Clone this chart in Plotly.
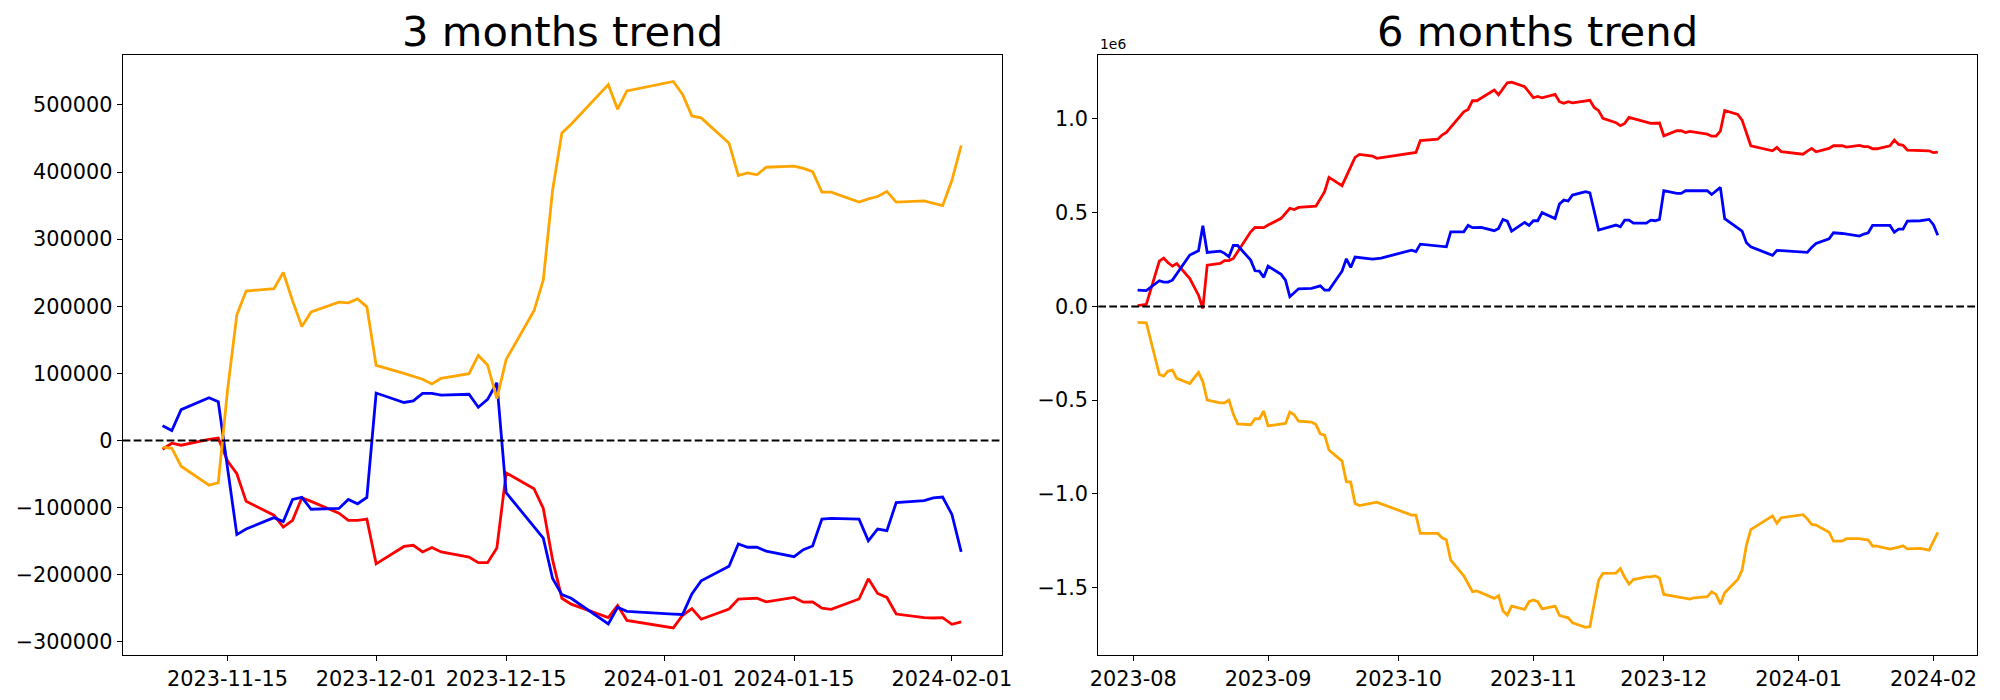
import plotly.graph_objects as go

# ---------------- 3 months trend (shared dates) ----------------
dates_3m = [
    "2023-11-08", "2023-11-09", "2023-11-10", "2023-11-13", "2023-11-14", "2023-11-15",
    "2023-11-16", "2023-11-17", "2023-11-20", "2023-11-21", "2023-11-22", "2023-11-23",
    "2023-11-24", "2023-11-27", "2023-11-28", "2023-11-29", "2023-11-30", "2023-12-01",
    "2023-12-04", "2023-12-05", "2023-12-06", "2023-12-07", "2023-12-08", "2023-12-11",
    "2023-12-12", "2023-12-13", "2023-12-14", "2023-12-15", "2023-12-18", "2023-12-19",
    "2023-12-20", "2023-12-21", "2023-12-22", "2023-12-26", "2023-12-27", "2023-12-28",
    "2024-01-02", "2024-01-03", "2024-01-04", "2024-01-05", "2024-01-08", "2024-01-09",
    "2024-01-10", "2024-01-11", "2024-01-12", "2024-01-15", "2024-01-16", "2024-01-17",
    "2024-01-18", "2024-01-19", "2024-01-22", "2024-01-23", "2024-01-24", "2024-01-25",
    "2024-01-26", "2024-01-29", "2024-01-30", "2024-01-31", "2024-02-01", "2024-02-02",
]
red_3m = [
    -13000, -4100, -7100, 1800, 3500, -30600, -49500, -90700, -111300, -129000, -119000, -85400,
    -90700, -108400, -119000, -119000, -117200, -183800, -157900, -156100, -166100, -159600,
    -166100, -173800, -182000, -182000, -160200, -48300, -71900, -101300, -177900, -235100,
    -243900, -263900, -245700, -268000, -279200, -260400, -250400, -266300, -251000, -236200,
    -235600, -235100, -240400, -233900, -240900, -240400, -249800, -251500, -236200, -206200,
    -228000, -233900, -258600, -263900, -264500, -263900, -273900, -270400,
]
blue_3m = [
    21800, 14700, 45900, 63600, 57700, -42400, -140200, -132000, -114900, -120800, -87800, -84800,
    -102500, -101300, -87800, -94300, -84800, 70700, 56600, 58900, 70100, 70100, 67700, 68900,
    49500, 61300, 86000, -77800, -127800, -145500, -205600, -229700, -235100, -273300, -248600,
    -254500, -258600, -259200, -228600, -209100, -187300, -154300, -159100, -159100, -164900,
    -173200, -162600, -157300, -117200, -116100, -117200, -149600, -132000, -134300, -92500,
    -89500, -85400, -84200, -110200, -166100,
]
orange_3m = [
    -10000, -11800, -38300, -66600, -63000, 75400, 187300, 222700, 226200, 250400, 208000, 169700,
    191500, 206200, 205000, 210900, 199100, 111900, 100100, 95400, 91300, 84200, 92500, 99600,
    126700, 112500, 62400, 120800, 193200, 239200, 372900, 458300, 471300, 530200, 493700, 520800,
    534900, 515500, 483600, 480700, 443000, 394700, 398800, 395900, 407100, 408800, 405300, 400600,
    370000, 370000, 355200, 359900, 363500, 371100, 355200, 357000, 353500, 349900, 387600, 439500,
]

# ---------------- 6 months trend (values in millions, axis offset 1e6) ----------------
red_6m_dates = [
    "2023-08-02", "2023-08-04", "2023-08-07", "2023-08-08", "2023-08-09", "2023-08-10", "2023-08-11",
    "2023-08-14", "2023-08-16", "2023-08-17", "2023-08-18", "2023-08-21", "2023-08-22", "2023-08-23",
    "2023-08-24", "2023-08-25", "2023-08-28", "2023-08-29", "2023-08-31", "2023-09-01", "2023-09-04",
    "2023-09-06", "2023-09-07", "2023-09-08", "2023-09-12", "2023-09-14", "2023-09-15", "2023-09-18",
    "2023-09-21", "2023-09-22", "2023-09-25", "2023-09-26", "2023-10-05", "2023-10-06", "2023-10-10",
    "2023-10-11", "2023-10-12", "2023-10-16", "2023-10-17", "2023-10-18", "2023-10-19", "2023-10-23",
    "2023-10-24", "2023-10-26", "2023-10-27", "2023-10-30", "2023-11-01", "2023-11-02", "2023-11-03",
    "2023-11-06", "2023-11-07", "2023-11-08", "2023-11-09", "2023-11-10", "2023-11-14", "2023-11-15",
    "2023-11-16", "2023-11-17", "2023-11-20", "2023-11-21", "2023-11-22", "2023-11-23", "2023-11-27",
    "2023-11-28", "2023-11-30", "2023-12-01", "2023-12-04", "2023-12-05", "2023-12-06", "2023-12-07",
    "2023-12-11", "2023-12-12", "2023-12-13", "2023-12-14", "2023-12-15", "2023-12-18", "2023-12-19",
    "2023-12-21", "2023-12-26", "2023-12-27", "2023-12-28", "2024-01-02", "2024-01-03", "2024-01-04",
    "2024-01-05", "2024-01-08", "2024-01-09", "2024-01-11", "2024-01-12", "2024-01-15", "2024-01-16",
    "2024-01-17", "2024-01-18", "2024-01-19", "2024-01-22", "2024-01-23", "2024-01-24", "2024-01-25",
    "2024-01-26", "2024-01-29", "2024-01-31", "2024-02-01", "2024-02-02",
]
red_6m = [
    0.004, 0.011, 0.242, 0.258, 0.233, 0.215, 0.229, 0.149, 0.060, -0.011, 0.220, 0.229, 0.244,
    0.245, 0.256, 0.290, 0.398, 0.421, 0.420, 0.434, 0.470, 0.523, 0.517, 0.528, 0.535, 0.612,
    0.688, 0.644, 0.795, 0.811, 0.802, 0.790, 0.821, 0.884, 0.892, 0.914, 0.928, 1.038, 1.051,
    1.097, 1.097, 1.154, 1.129, 1.193, 1.196, 1.172, 1.113, 1.120, 1.113, 1.131, 1.092, 1.083,
    1.092, 1.086, 1.099, 1.061, 1.044, 1.003, 0.980, 0.964, 0.976, 1.008, 0.985, 0.976, 0.978,
    0.910, 0.937, 0.937, 0.928, 0.933, 0.919, 0.908, 0.908, 0.935, 1.045, 1.024, 0.994, 0.857,
    0.830, 0.848, 0.825, 0.812, 0.828, 0.843, 0.825, 0.843, 0.857, 0.857, 0.850, 0.859, 0.852,
    0.852, 0.841, 0.841, 0.857, 0.887, 0.864, 0.859, 0.834, 0.830, 0.830, 0.820, 0.823,
]
blue_6m_dates = [
    "2023-08-02", "2023-08-04", "2023-08-07", "2023-08-08", "2023-08-09", "2023-08-10", "2023-08-14",
    "2023-08-16", "2023-08-17", "2023-08-18", "2023-08-21", "2023-08-22", "2023-08-23", "2023-08-24",
    "2023-08-25", "2023-08-28", "2023-08-29", "2023-08-30", "2023-08-31", "2023-09-01", "2023-09-04",
    "2023-09-05", "2023-09-06", "2023-09-08", "2023-09-11", "2023-09-13", "2023-09-14", "2023-09-15",
    "2023-09-18", "2023-09-19", "2023-09-20", "2023-09-21", "2023-09-25", "2023-09-27", "2023-10-04",
    "2023-10-05", "2023-10-06", "2023-10-10", "2023-10-12", "2023-10-13", "2023-10-16", "2023-10-17",
    "2023-10-18", "2023-10-20", "2023-10-23", "2023-10-24", "2023-10-25", "2023-10-26", "2023-10-27",
    "2023-10-30", "2023-10-31", "2023-11-01", "2023-11-02", "2023-11-03", "2023-11-06", "2023-11-07",
    "2023-11-08", "2023-11-09", "2023-11-10", "2023-11-13", "2023-11-14", "2023-11-16", "2023-11-20",
    "2023-11-21", "2023-11-22", "2023-11-23", "2023-11-24", "2023-11-27", "2023-11-28", "2023-11-29",
    "2023-11-30", "2023-12-01", "2023-12-04", "2023-12-05", "2023-12-06", "2023-12-11", "2023-12-12",
    "2023-12-14", "2023-12-15", "2023-12-19", "2023-12-20", "2023-12-21", "2023-12-26", "2023-12-27",
    "2024-01-03", "2024-01-04", "2024-01-05", "2024-01-08", "2024-01-09", "2024-01-11", "2024-01-15",
    "2024-01-16", "2024-01-17", "2024-01-18", "2024-01-22", "2024-01-23", "2024-01-24", "2024-01-25",
    "2024-01-26", "2024-01-29", "2024-01-31", "2024-02-01", "2024-02-02",
]
blue_6m = [
    0.087, 0.084, 0.137, 0.130, 0.130, 0.140, 0.274, 0.297, 0.430, 0.288, 0.295, 0.283, 0.265,
    0.325, 0.325, 0.247, 0.190, 0.188, 0.155, 0.215, 0.171, 0.140, 0.052, 0.094, 0.096, 0.110,
    0.087, 0.087, 0.188, 0.254, 0.208, 0.263, 0.252, 0.258, 0.300, 0.292, 0.332, 0.320, 0.318,
    0.398, 0.398, 0.432, 0.420, 0.421, 0.404, 0.416, 0.464, 0.455, 0.402, 0.448, 0.432, 0.457,
    0.457, 0.500, 0.469, 0.546, 0.567, 0.562, 0.594, 0.612, 0.606, 0.407, 0.434, 0.425, 0.460,
    0.460, 0.444, 0.444, 0.460, 0.457, 0.464, 0.617, 0.603, 0.603, 0.617, 0.617, 0.597, 0.635,
    0.468, 0.402, 0.340, 0.318, 0.272, 0.299, 0.288, 0.315, 0.336, 0.361, 0.393, 0.389, 0.375,
    0.386, 0.393, 0.432, 0.432, 0.396, 0.412, 0.412, 0.455, 0.457, 0.464, 0.436, 0.380,
]
orange_6m_dates = [
    "2023-08-02", "2023-08-04", "2023-08-07", "2023-08-08", "2023-08-09", "2023-08-10", "2023-08-11",
    "2023-08-14", "2023-08-16", "2023-08-17", "2023-08-18", "2023-08-21", "2023-08-22", "2023-08-23",
    "2023-08-24", "2023-08-25", "2023-08-28", "2023-08-29", "2023-08-30", "2023-08-31", "2023-09-01",
    "2023-09-05", "2023-09-06", "2023-09-07", "2023-09-08", "2023-09-11", "2023-09-12", "2023-09-13",
    "2023-09-14", "2023-09-15", "2023-09-18", "2023-09-19", "2023-09-20", "2023-09-21", "2023-09-22",
    "2023-09-26", "2023-10-04", "2023-10-05", "2023-10-06", "2023-10-10", "2023-10-11", "2023-10-12",
    "2023-10-13", "2023-10-16", "2023-10-18", "2023-10-19", "2023-10-23", "2023-10-24", "2023-10-25",
    "2023-10-26", "2023-10-27", "2023-10-30", "2023-10-31", "2023-11-01", "2023-11-02", "2023-11-03",
    "2023-11-06", "2023-11-07", "2023-11-08", "2023-11-09", "2023-11-10", "2023-11-13", "2023-11-14",
    "2023-11-15", "2023-11-16", "2023-11-17", "2023-11-20", "2023-11-21", "2023-11-22", "2023-11-23",
    "2023-11-24", "2023-11-27", "2023-11-28", "2023-11-29", "2023-11-30", "2023-12-01", "2023-12-04",
    "2023-12-07", "2023-12-08", "2023-12-11", "2023-12-12", "2023-12-13", "2023-12-14", "2023-12-15",
    "2023-12-18", "2023-12-19", "2023-12-20", "2023-12-21", "2023-12-26", "2023-12-27", "2023-12-28",
    "2024-01-02", "2024-01-03", "2024-01-04", "2024-01-05", "2024-01-08", "2024-01-09", "2024-01-11",
    "2024-01-12", "2024-01-15", "2024-01-17", "2024-01-18", "2024-01-19", "2024-01-22", "2024-01-24",
    "2024-01-25", "2024-01-26", "2024-01-29", "2024-01-31", "2024-02-01", "2024-02-02",
]
orange_6m = [
    -0.085, -0.087, -0.363, -0.372, -0.345, -0.340, -0.384, -0.411, -0.352, -0.402, -0.500, -0.514,
    -0.514, -0.500, -0.574, -0.626, -0.631, -0.599, -0.599, -0.558, -0.637, -0.624, -0.564, -0.578,
    -0.612, -0.617, -0.630, -0.679, -0.686, -0.766, -0.825, -0.935, -0.937, -1.051, -1.062, -1.044,
    -1.113, -1.113, -1.211, -1.211, -1.234, -1.245, -1.353, -1.437, -1.522, -1.517, -1.557, -1.543,
    -1.623, -1.646, -1.598, -1.616, -1.575, -1.566, -1.575, -1.613, -1.598, -1.648, -1.655, -1.661,
    -1.687, -1.712, -1.708, -1.575, -1.460, -1.424, -1.422, -1.398, -1.445, -1.481, -1.457, -1.442,
    -1.442, -1.437, -1.449, -1.536, -1.550, -1.561, -1.554, -1.548, -1.522, -1.536, -1.588, -1.527,
    -1.456, -1.406, -1.273, -1.190, -1.117, -1.157, -1.127, -1.111, -1.133, -1.163, -1.166, -1.204,
    -1.252, -1.252, -1.239, -1.239, -1.246, -1.278, -1.278, -1.294, -1.284, -1.277, -1.293, -1.291,
    -1.300, -1.255, -1.205,
]

# ---------------- ticks and titles ----------------
titles = ["3 months trend", "6 months trend"]
x_ticks_3m = ["2023-11-15", "2023-12-01", "2023-12-15", "2024-01-01", "2024-01-15", "2024-02-01"]
y_ticks_3m = [-300000, -200000, -100000, 0, 100000, 200000, 300000, 400000, 500000]
x_ticks_6m = ["2023-08-01", "2023-09-01", "2023-10-01", "2023-11-01", "2023-12-01", "2024-01-01", "2024-02-01"]
x_ticktext_6m = ["2023-08", "2023-09", "2023-10", "2023-11", "2023-12", "2024-01", "2024-02"]
y_ticks_6m = [-1.5, -1.0, -0.5, 0.0, 0.5, 1.0]
offset_label = "1e6"

RED, BLUE, ORANGE = "#ff0000", "#0000ff", "#ffa500"
FONT = "DejaVu Sans"
TICK_SIZE = 20.8
LW = 2.8


def fmt_minus(s):
    return s.replace("-", "\u2212")


fig = go.Figure()
for xs, ys, c in [(dates_3m, red_3m, RED), (dates_3m, blue_3m, BLUE), (dates_3m, orange_3m, ORANGE)]:
    fig.add_trace(go.Scatter(x=xs, y=ys, mode="lines", line=dict(color=c, width=LW),
                             xaxis="x", yaxis="y", showlegend=False, hoverinfo="skip"))
for xs, ys, c in [(red_6m_dates, red_6m, RED), (blue_6m_dates, blue_6m, BLUE),
                  (orange_6m_dates, orange_6m, ORANGE)]:
    fig.add_trace(go.Scatter(x=xs, y=ys, mode="lines", line=dict(color=c, width=LW),
                             xaxis="x2", yaxis="y2", showlegend=False, hoverinfo="skip"))

axis_common = dict(showgrid=False, zeroline=False, showline=True, mirror=True,
                   linecolor="black", linewidth=1.1, ticks="outside", ticklen=5,
                   tickwidth=1.1, tickcolor="black", automargin=False,
                   tickfont=dict(family=FONT, size=TICK_SIZE, color="black"))

Y_DOMAIN = [0.0646, 0.9209]
fig.update_layout(
    width=2000, height=700,
    margin=dict(l=0, r=0, t=0, b=0),
    paper_bgcolor="white", plot_bgcolor="white",
    xaxis=dict(domain=[0.06135, 0.50085], anchor="y", type="date",
               range=["2023-11-03 17:00", "2024-02-06 08:40"],
               tickmode="array", tickvals=x_ticks_3m, ticktext=x_ticks_3m, **axis_common),
    yaxis=dict(domain=Y_DOMAIN, anchor="x", range=[-319300, 573800],
               tickmode="array", tickvals=y_ticks_3m,
               ticktext=[fmt_minus(str(v)) for v in y_ticks_3m], **axis_common),
    xaxis2=dict(domain=[0.54915, 0.98865], anchor="y2", type="date",
                range=["2023-07-23 23:00", "2024-02-11 02:00"],
                tickmode="array", tickvals=x_ticks_6m, ticktext=x_ticktext_6m, **axis_common),
    yaxis2=dict(domain=Y_DOMAIN, anchor="x2", range=[-1.858, 1.339],
                tickmode="array", tickvals=y_ticks_6m,
                ticktext=[fmt_minus(f"{v:.1f}") for v in y_ticks_6m], **axis_common),
    shapes=[
        dict(type="line", xref="x domain", yref="y", x0=0, x1=1, y0=0, y1=0,
             line=dict(color="black", width=2, dash="7.7px,3.3px"), layer="above"),
        dict(type="line", xref="x2 domain", yref="y2", x0=0, x1=1, y0=0, y1=0,
             line=dict(color="black", width=2, dash="7.7px,3.3px"), layer="above"),
    ],
    annotations=[
        dict(text=titles[0], xref="paper", yref="paper", x=0.2811, y=1 - 58 / 700,
             xanchor="center", yanchor="bottom", showarrow=False,
             font=dict(family=FONT, size=41.7, color="black")),
        dict(text=titles[1], xref="paper", yref="paper", x=0.7689, y=1 - 58 / 700,
             xanchor="center", yanchor="bottom", showarrow=False,
             font=dict(family=FONT, size=41.7, color="black")),
        dict(text=offset_label, xref="paper", yref="paper", x=0.5488, y=1 - 54 / 700,
             xanchor="left", yanchor="bottom", showarrow=False,
             font=dict(family=FONT, size=13.9, color="black")),
    ],
)

fig.write_html(
    "out.html",
    config={"displayModeBar": False},
    post_script="document.body.style.margin='0px';document.body.style.overflow='hidden';",
)
